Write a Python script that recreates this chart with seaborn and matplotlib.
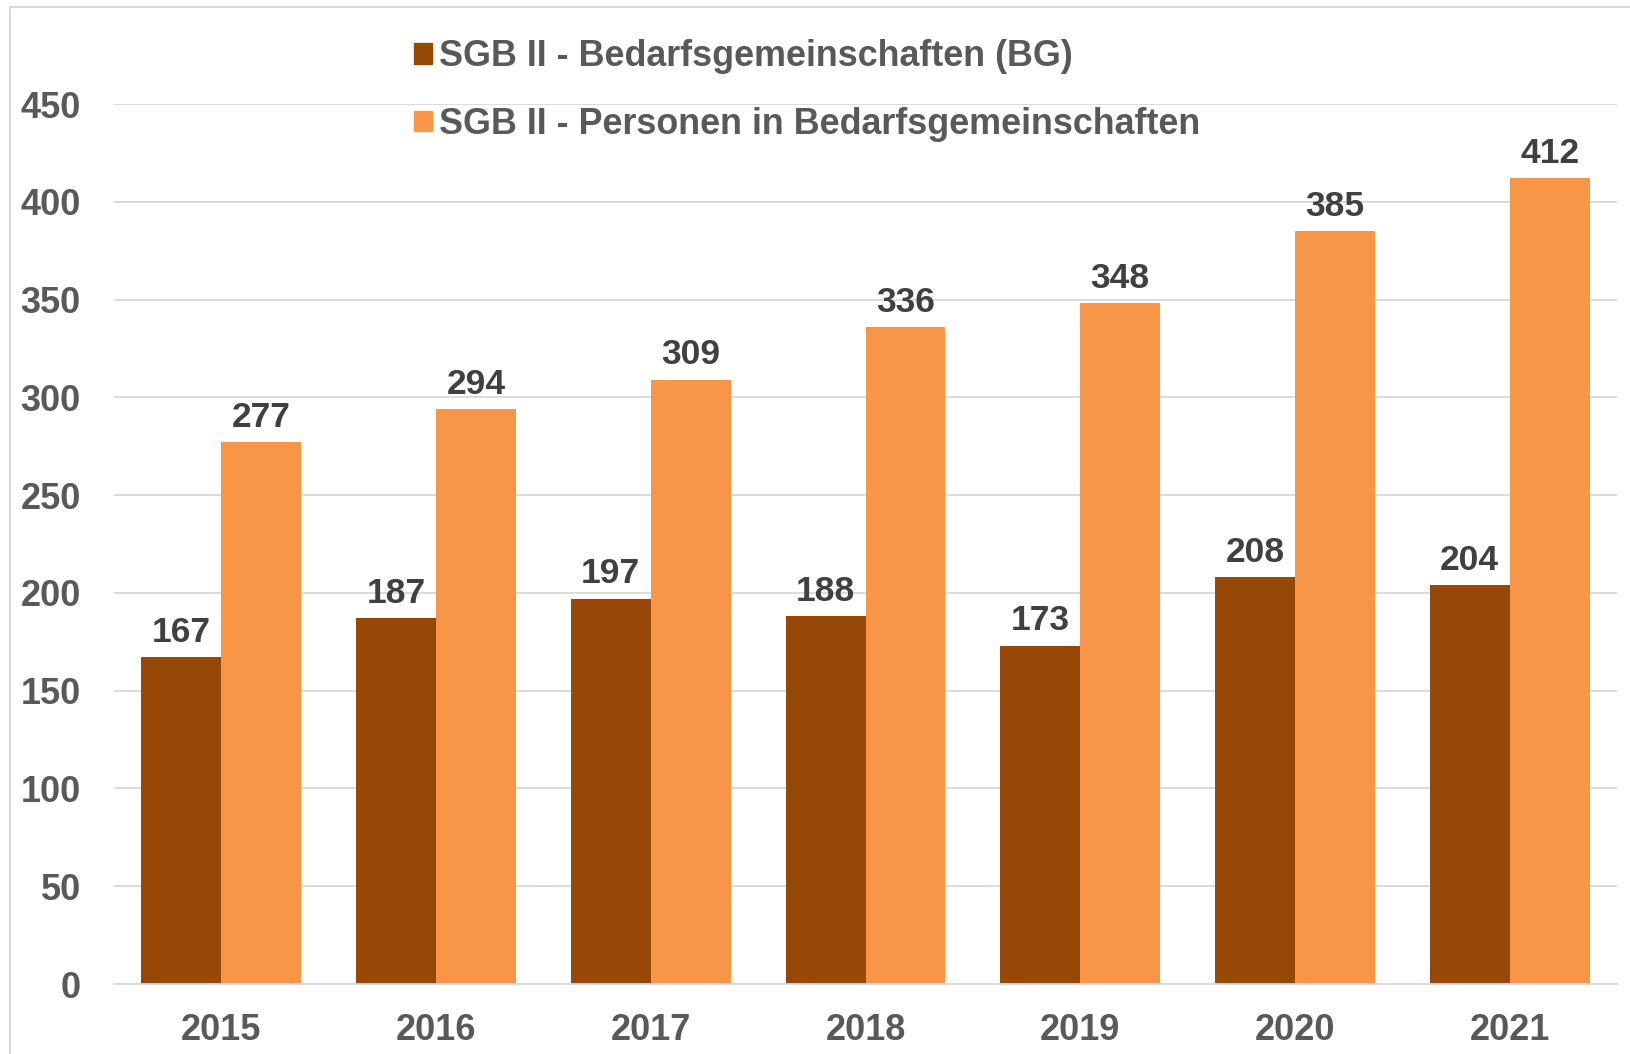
import matplotlib.pyplot as plt
import matplotlib.patches as mpatches
import seaborn as sns
import pandas as pd

# SGB II data (in thousands?)
years = ["2015", "2016", "2017", "2018", "2019", "2020", "2021"]
bg = [167, 187, 197, 188, 173, 208, 204]
personen = [277, 294, 309, 336, 348, 385, 412]
series_names = ["SGB II - Bedarfsgemeinschaften (BG)",
                "SGB II - Personen in Bedarfsgemeinschaften"]
colors = ["#974706", "#F79646"]

df = pd.DataFrame({
    "Jahr": years * 2,
    "Wert": bg + personen,
    "Serie": [series_names[0]] * len(years) + [series_names[1]] * len(years),
})

sns.set_style("white")
plt.rcParams["font.family"] = ["Liberation Sans", "DejaVu Sans"]

fig = plt.figure(figsize=(16.3, 10.54), dpi=100)
ax = fig.add_axes([114 / 1630, 1 - 984 / 1054, (1617 - 114) / 1630, (984 - 104) / 1054])

sns.barplot(data=df, x="Jahr", y="Wert", hue="Serie", palette=colors,
            width=0.745, saturation=1, linewidth=0, ax=ax, legend=False)

ax.set_xlim(-0.5, 6.5)
ax.set_ylim(0, 450)
ax.set_yticks(range(0, 451, 50))
ax.yaxis.grid(True, color="#D9D9D9", linewidth=1.3)
ax.set_axisbelow(True)
for s in ["top", "right", "left"]:
    ax.spines[s].set_visible(False)
ax.spines["bottom"].set_color("#D9D9D9")
ax.spines["bottom"].set_linewidth(1.3)
ax.set_xlabel("")
ax.set_ylabel("")
ax.tick_params(axis="both", length=0, labelsize=26, labelcolor="#595959")
ax.tick_params(axis="y", pad=24)
ax.tick_params(axis="x", pad=21)
for lab in ax.get_xticklabels() + ax.get_yticklabels():
    lab.set_fontweight("bold")

for cont in ax.containers:
    ax.bar_label(cont, fmt="%d", padding=6, fontsize=25.5, fontweight="bold",
                 color="#404040")

handles = [mpatches.Patch(color=c, label=n) for c, n in zip(colors, series_names)]
leg = fig.legend(handles=handles, loc="upper left",
                 bbox_to_anchor=(382 / 1630, 1 - 7 / 1054), frameon=False,
                 fontsize=25.8, handlelength=0.5, handleheight=0.5,
                 handletextpad=0.2, labelspacing=0.9, labelcolor="#595959")
for t in leg.get_texts():
    t.set_fontweight("bold")

fig.patches.append(mpatches.Rectangle((10 / 1630, -0.1), 1.2, 1 - 7 / 1054 + 0.1,
                                      transform=fig.transFigure, fill=False,
                                      edgecolor="#D9D9D9", linewidth=1.5))

fig.savefig("out.png", dpi=100)
